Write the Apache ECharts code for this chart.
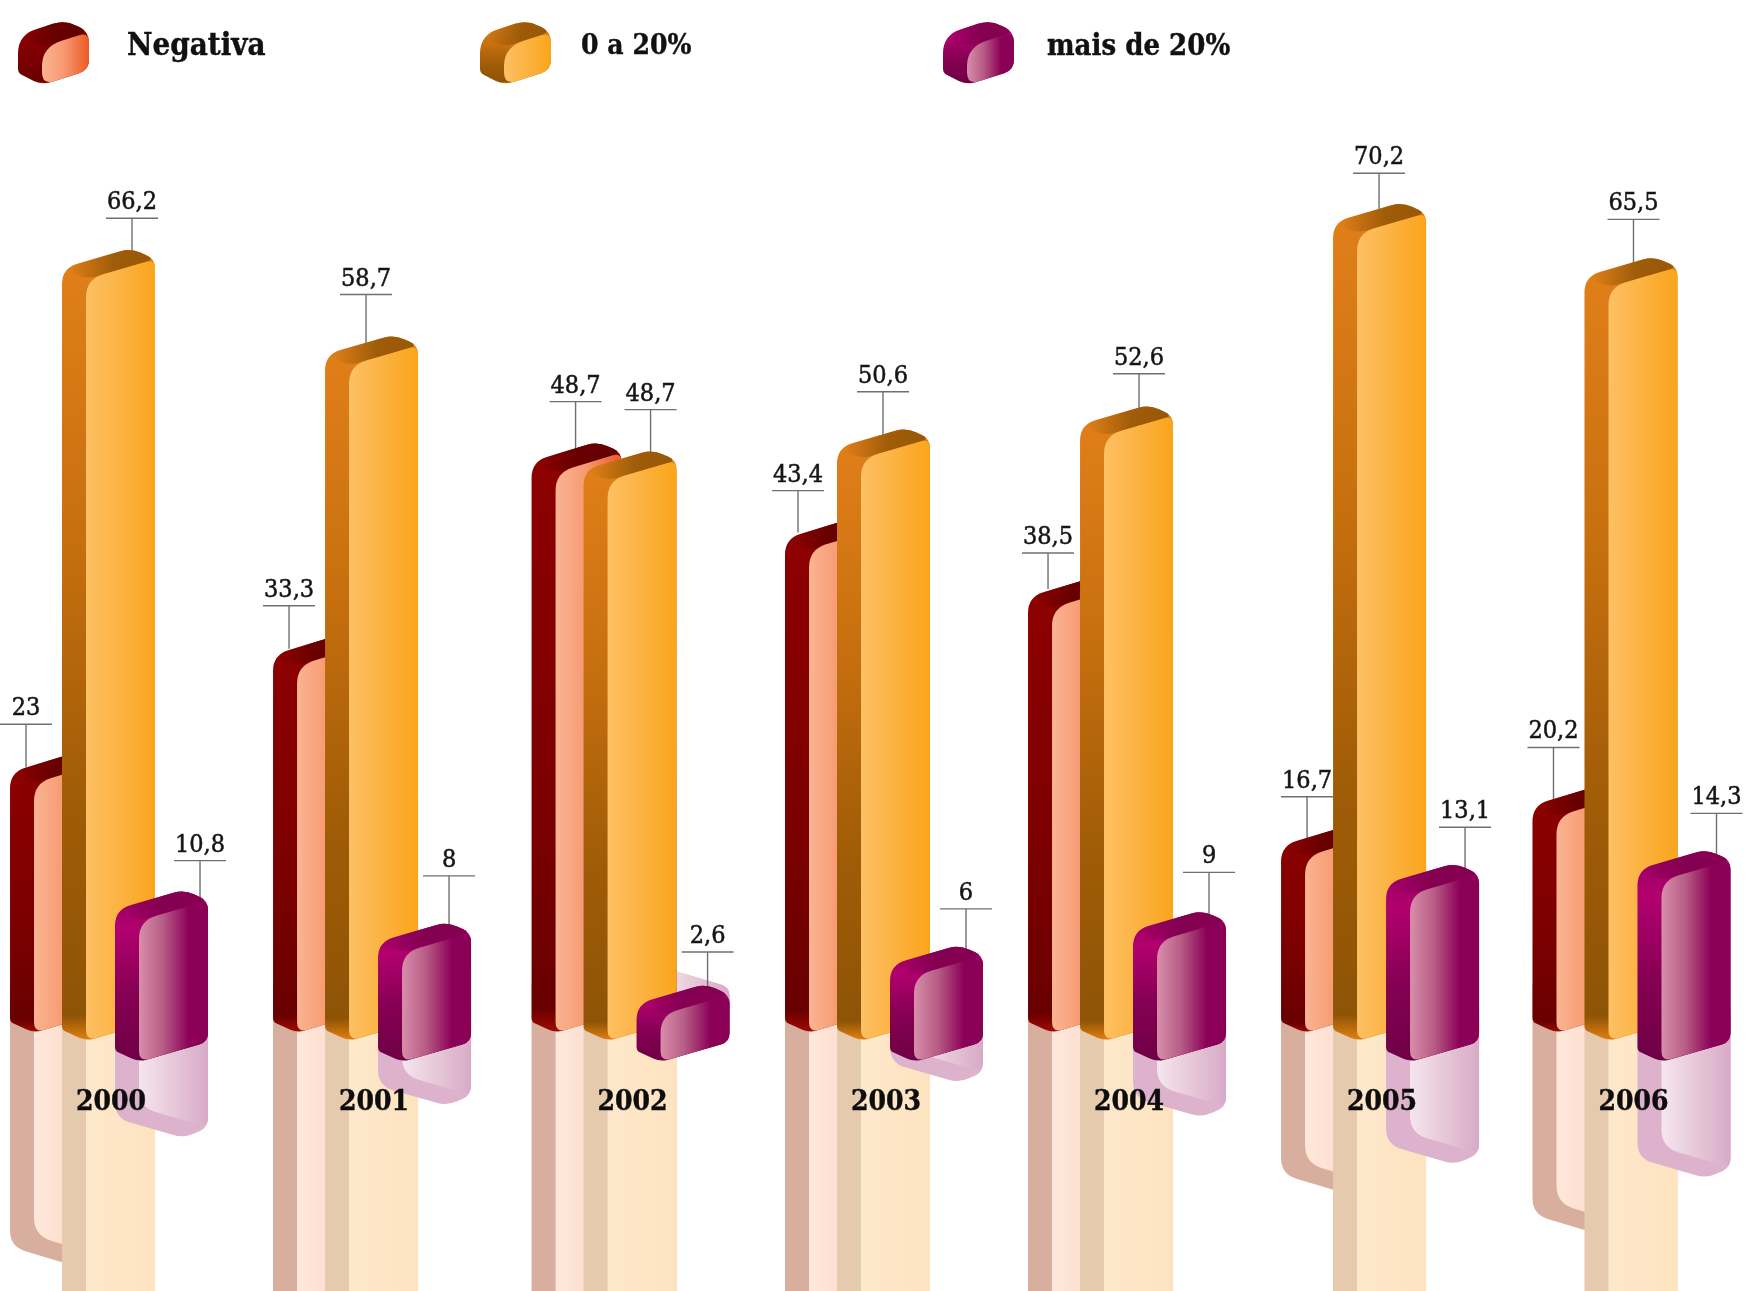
<!DOCTYPE html>
<html>
<head>
<meta charset="utf-8">
<style>html,body{margin:0;padding:0;background:#fff}#chart{width:1746px;height:1291px}</style>
<script src="https://cdn.jsdelivr.net/npm/echarts@6/dist/echarts.min.js"></script>
</head>
<body>
<div id="chart"></div>
<script>
// Percentual de empresas por faixa de rentabilidade, ano a ano
const years = ['2000', '2001', '2002', '2003', '2004', '2005', '2006'];
const negativa = [23, 33.3, 48.7, 43.4, 38.5, 16.7, 20.2];
const zeroA20 = [66.2, 58.7, 48.7, 50.6, 52.6, 70.2, 65.5];
const maisDe20 = [10.8, 8, 2.6, 6, 9, 13.1, 14.3];

// Hand placement of each year's cluster and of the callouts (pixels)
const clusterNudge = [-15.7, -2.1, 7, 11, 4.6, 8.2, 10.2];
const leaders = {
  neg: { dx: [16, 16, 44, 13, 20, 26, 21], rise: [13, 13, 40, 12, 6, 13, 22] },
  mid: { dx: [70, 41, 67, 46, 59, 46, 49], rise: [30, 40, 40, 36, 31, 29, 37] },
  high: { dx: [85, 71, 71, 76, 76, 79, 79], rise: [29, 46, 32, 36, 38, 36, 36] }
};
// Fine vertical adjustments of individual block tops and reflections (pixels)
const topTrim = { neg: [15, 16, 0, 16, 18, 16, 16], mid: [0, 0, 0, 0, 0, 0, 0], high: [0, 0, 0, 0, 0, 0, 0] };
const ghostRaise = { neg: [0, 0, 0, 0, 0, 0, 0], mid: [0, 0, 0, 0, 0, 0, 0], high: [0, 0, 16, 0, 0, 0, 0] };
// The front blocks stand a little lower on the floor than the ones behind them
const floorDrop = { neg: 0, mid: 0, high: 17 };

const FONT = '"DejaVu Serif Condensed","DejaVu Serif",serif';
const BOX = { s: 24, f: 69, a: 11, b: 20 };

const horiz = (stops) => ({ type: 'linear', x: 0, y: 0, x2: 1, y2: 0, colorStops: stops.map((c) => ({ offset: c[0], color: c[1] })) });
const vert = (stops) => ({ type: 'linear', x: 0, y: 0, x2: 0, y2: 1, colorStops: stops.map((c) => ({ offset: c[0], color: c[1] })) });

const PALETTE = {
  neg: {
    side: vert([[0, '#8E0000'], [0.6, '#7C0000'], [0.96, '#690000'], [1, '#A00A00']]),
    top: horiz([[0, 'rgba(100,0,0,0)'], [0.45, 'rgba(100,0,0,0.9)'], [1, '#640000']]),
    face: horiz([[0, '#FAB492'], [0.45, '#F79A72'], [1, '#EC5A25']]),
    ghostSide: '#D8AE9E',
    ghostFace: horiz([[0, '#FEE8DB'], [1, '#FBD6C3']])
  },
  mid: {
    side: vert([[0, '#E2801A'], [0.35, '#C8700F'], [0.7, '#A05C07'], [0.97, '#8E5406'], [1, '#E27F10']]),
    top: horiz([[0, 'rgba(152,88,7,0)'], [0.55, 'rgba(152,88,7,0.9)'], [1, '#985807']]),
    face: horiz([[0, '#FDC063'], [0.4, '#FCB548'], [1, '#FAA51B']]),
    ghostSide: '#E5CAAE',
    ghostFace: horiz([[0, '#FEE8CB'], [1, '#FDE3BF']])
  },
  high: {
    side: vert([[0, '#95005F'], [0.22, '#B2006F'], [0.6, '#860053'], [1, '#6E0046']]),
    top: horiz([[0, 'rgba(130,0,79,0)'], [0.5, 'rgba(130,0,79,0.95)'], [1, '#860052']]),
    face: horiz([[0, '#D88EAA'], [0.35, '#B65C85'], [0.72, '#8C0058'], [1, '#8A0056']]),
    ghostSide: '#DDB2CD',
    ghostFace: horiz([[0, '#F5E6EE'], [0.5, '#E6C8D8'], [1, '#D8AAC8']])
  }
};

// One corner of a rounded outline: where the curve starts and ends
function corner(p, prev, next, r) {
  const pull = (q) => {
    const d = Math.hypot(q[0] - p[0], q[1] - p[1]) || 1;
    const k = Math.min(r, d / 2) / d;
    return [p[0] + (q[0] - p[0]) * k, p[1] + (q[1] - p[1]) * k];
  };
  return { from: pull(prev), to: pull(next) };
}

// Closed outline through [x, y, radius] points
function outline(pts) {
  let d = '';
  pts.forEach((pt, i) => {
    const p = [pt[0], pt[1]];
    const prev = pts[(i + pts.length - 1) % pts.length];
    const next = pts[(i + 1) % pts.length];
    const c = corner(p, prev, next, pt[2] || 0);
    d += (i ? 'L' : 'M') + c.from[0] + ' ' + c.from[1];
    d += 'Q' + p[0] + ' ' + p[1] + ' ' + c.to[0] + ' ' + c.to[1];
  });
  return d + 'Z';
}

// Faces of a rounded block. apexY is the rear corner of its top, floorY the
// same corner at zero height; flip mirrors everything around floorY.
function block(x0, apexY, floorY, dim, flip) {
  const { s, f, a, b } = dim;
  const R = dim.round || 1;
  const y = flip ? (v) => 2 * floorY - v : (v) => v;
  const L = [x0, y(apexY + b)], Ap = [x0 + f, y(apexY)], Rt = [x0 + s + f, y(apexY + a)], F = [x0 + s, y(apexY + a + b)];
  const Lb = [x0, y(floorY + b)], Fb = [x0 + s, y(floorY + a + b)], Rb = [x0 + s + f, y(floorY + a)];
  const shell = outline([[Lb[0], Lb[1], 4 * R], [L[0], L[1], 16 * R], [Ap[0], Ap[1], 11 * R], [Rt[0], Rt[1], 9 * R], [Rb[0], Rb[1], 9 * R], [Fb[0], Fb[1], 8 * R]]);
  const top = outline([[L[0], L[1], 16 * R], [Ap[0], Ap[1], 11 * R], [Rt[0], Rt[1], 9 * R], [F[0], F[1], 10 * R]]);
  const face = outline([[F[0], F[1], 18 * R], [Rt[0], Rt[1], 9 * R], [Rb[0], Rb[1], 9 * R], [Fb[0], Fb[1], 11 * R]]);
  return { shell, top, face };
}

function blockShapes(pal, parts, ghost) {
  if (ghost) {
    return [
      { type: 'path', shape: { pathData: parts.shell }, style: { fill: pal.ghostSide } },
      { type: 'path', shape: { pathData: parts.face }, style: { fill: pal.ghostFace } }
    ];
  }
  return [
    { type: 'path', shape: { pathData: parts.shell }, style: { fill: pal.side } },
    { type: 'path', shape: { pathData: parts.top }, style: { fill: pal.top } },
    { type: 'path', shape: { pathData: parts.face }, style: { fill: pal.face } }
  ];
}

const clusterX = (api, i, shift) => api.coord([i, 0])[0] + clusterNudge[i] + shift;

// Pale copy under the floor line, mirrored around zero
function mirrorSeries(name, values, key, shift, floorShift, w, z) {
  return {
    type: 'custom', name: name + ' (reflexo)', z, silent: true,
    encode: { x: 0, y: 1 },
    data: values.map((v, i) => [i, v]),
    renderItem(params, api) {
      const i = api.value(0);
      const lift = ghostRaise[key][i];
      const apex = api.coord([i, api.value(1)])[1] + floorShift;
      const floor = api.coord([i, 0])[1] + floorShift;
      const x0 = clusterX(api, i, shift);
      const parts = block(x0, apex - lift, floor - lift, Object.assign({}, BOX, { f: w - BOX.s }), true);
      return { type: 'group', children: blockShapes(PALETTE[key], parts, true) };
    }
  };
}

function barSeries(name, values, key, shift, floorShift, w, z) {
  return {
    type: 'custom', name, z,
    encode: { x: 0, y: 1 },
    data: values.map((v, i) => [i, v]),
    renderItem(params, api) {
      const i = api.value(0), v = api.value(1);
      const apex = api.coord([i, v])[1] + floorShift;
      const floor = api.coord([i, 0])[1] + floorShift + floorDrop[key];
      const x0 = clusterX(api, i, shift);
      const lead = leaders[key];
      const sx = x0 + lead.dx[i], ly = apex - lead.rise[i];
      const parts = block(x0, apex + topTrim[key][i], floor, Object.assign({}, BOX, { f: w - BOX.s }), false);
      const stroke = { stroke: '#6f6f6f', lineWidth: 1.4 };
      return {
        type: 'group',
        children: [
          { type: 'line', shape: { x1: sx, y1: ly, x2: sx, y2: apex + 30 }, style: stroke },
          { type: 'line', shape: { x1: sx - 26, y1: ly, x2: sx + 26, y2: ly }, style: stroke },
          { type: 'text', style: { text: String(v).replace('.', ','), x: sx, y: ly - 3, textAlign: 'center', textVerticalAlign: 'bottom', font: '25px ' + FONT, fill: '#151515', stroke: '#151515', lineWidth: 0.5 } },
          ...blockShapes(PALETTE[key], parts, false)
        ]
      };
    }
  };
}

// Legend swatches and captions, drawn from the same block shape
const legendLabels = ['Negativa', '0 a 20%', 'mais de 20%'];
const legendKeys = ['neg', 'mid', 'high'];
const legendSwatchX = [18, 480, 943];
const legendTextX = [127, 581, 1047];
const legendFontSize = [31, 28, 29];
const legendDim = { s: 24, f: 47, a: 12, b: 15, round: 1.15 };

const chart = echarts.init(document.getElementById('chart'), null, { renderer: 'canvas' });
chart.setOption({
  backgroundColor: '#fff',
  animation: false,
  grid: { left: 0, right: 0, top: 32, bottom: 5 },
  xAxis: { type: 'category', data: years, show: false },
  yAxis: { type: 'value', min: -24, max: 85, show: false },
  series: [
    mirrorSeries('Negativa', negativa, 'neg', -99, -8, 90, 1),
    mirrorSeries('0 a 20%', zeroA20, 'mid', -47, 0, 93, 2),
    mirrorSeries('mais de 20%', maisDe20, 'high', 6, 4, 93, 3),
    barSeries('Negativa', negativa, 'neg', -99, -8, 90, 4),
    barSeries('0 a 20%', zeroA20, 'mid', -47, 0, 93, 5),
    barSeries('mais de 20%', maisDe20, 'high', 6, 4, 93, 6),
    {
      type: 'custom', name: 'Anos', z: 7, silent: true,
      encode: { x: 0 },
      data: years.map((y, i) => [i]),
      renderItem(params, api) {
        const i = api.value(0);
        return {
          type: 'text',
          style: {
            text: years[i], x: clusterX(api, i, 2), y: 1103,
            textAlign: 'center', textVerticalAlign: 'middle',
            font: 'bold 28px ' + FONT, fill: '#0d0d0d', stroke: '#0d0d0d', lineWidth: 0.4
          }
        };
      }
    },
    {
      type: 'custom', name: 'Legenda', z: 8, silent: true,
      coordinateSystem: 'none',
      data: legendLabels.map((l, i) => [i]),
      renderItem(params, api) {
        const i = api.value(0);
        return {
          type: 'group',
          children: [
            ...blockShapes(PALETTE[legendKeys[i]], block(legendSwatchX[i], 20, 58, legendDim, false), false),
            { type: 'text', style: { text: legendLabels[i], x: legendTextX[i], y: 47, font: 'bold ' + legendFontSize[i] + 'px ' + FONT, fill: '#111', stroke: '#111', lineWidth: 0.4, textVerticalAlign: 'middle' } }
          ]
        };
      }
    }
  ]
});
</script>
</body>
</html>
